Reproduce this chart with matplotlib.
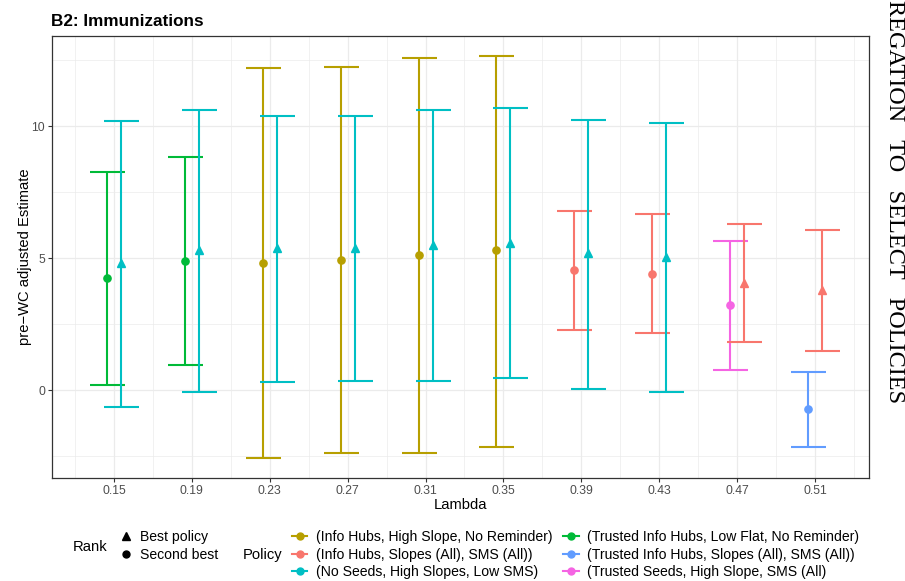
import numpy as np
import matplotlib.pyplot as plt
from matplotlib.lines import Line2D

plt.rcParams['font.family'] = ['Liberation Sans', 'DejaVu Sans']

lambdas = [0.15, 0.19, 0.23, 0.27, 0.31, 0.35, 0.39, 0.43, 0.47, 0.51]

policies = ['(Info Hubs, High Slope, No Reminder)',
            '(Info Hubs, Slopes (All), SMS (All))',
            '(No Seeds, High Slopes, Low SMS)',
            '(Trusted Info Hubs, Low Flat, No Reminder)',
            '(Trusted Info Hubs, Slopes (All), SMS (All))',
            '(Trusted Seeds, High Slope, SMS (All)']
policy_colors = ['#B79F00', '#F8766D', '#00BFC4', '#00BA38', '#619CFF', '#F564E3']

# index into policies for each lambda
best_policy = [2, 2, 2, 2, 2, 2, 2, 2, 1, 1]
best_est = [4.81, 5.30, 5.37, 5.39, 5.49, 5.57, 5.18, 5.03, 4.05, 3.79]
best_lo = [-0.65, -0.09, 0.29, 0.34, 0.34, 0.45, 0.04, -0.08, 1.81, 1.48]
best_hi = [10.19, 10.60, 10.38, 10.38, 10.60, 10.68, 10.23, 10.11, 6.28, 6.05]

second_policy = [3, 3, 0, 0, 0, 0, 1, 1, 5, 4]
second_est = [4.24, 4.90, 4.82, 4.92, 5.11, 5.30, 4.53, 4.41, 3.22, -0.73]
second_lo = [0.21, 0.95, -2.58, -2.40, -2.37, -2.16, 2.28, 2.16, 0.77, -2.16]
second_hi = [8.26, 8.83, 12.20, 12.23, 12.58, 12.65, 6.78, 6.65, 5.66, 0.69]

W, H = 905, 581
fig = plt.figure(figsize=(W / 100, H / 100), dpi=100)
ax = fig.add_axes([52 / W, 1 - 478 / H, (869 - 52) / W, (478 - 36) / H])

dodge = 0.0036
lw = 1.5


def draw(xs, est, lo, hi, pol, marker, ms):
    for x, e, l, h, p in zip(xs, est, lo, hi, pol):
        c = policy_colors[p]
        ax.errorbar(x, e, yerr=[[e - l], [h - e]], color=c, marker=marker,
                    ms=ms, lw=lw, capsize=12.6, capthick=lw, zorder=3)


draw(np.array(lambdas) - dodge, second_est, second_lo, second_hi, second_policy, 'o', 5.2)
draw(np.array(lambdas) + dodge, best_est, best_lo, best_hi, best_policy, '^', 6)

ax.set_xlim(0.1182, 0.5377)
ax.set_ylim(-3.33, 13.41)
ax.set_xticks(lambdas)
ax.set_xticklabels([f'{v:.2f}' for v in lambdas])
ax.set_xticks(list(np.array(lambdas) - 0.02) + [0.53], minor=True)
ax.set_yticks([0, 5, 10])
ax.set_yticks([-2.5, 2.5, 7.5, 12.5], minor=True)
ax.grid(True, which='major', color='#EBEBEB', lw=0.9, zorder=0)
ax.grid(True, which='minor', color='#EBEBEB', lw=0.5, zorder=0)
ax.set_axisbelow(True)
ax.tick_params(which='major', length=3, width=0.8, color='#333333',
               labelsize=8.8, labelcolor='#4D4D4D', pad=2)
ax.tick_params(which='minor', length=0)
for s in ax.spines.values():
    s.set_color('#333333')
    s.set_linewidth(0.9)

ax.set_xlabel('Lambda', fontsize=10.6, labelpad=1)
ax.set_ylabel('pre\u2212WC adjusted Estimate', fontsize=10.6)
ax.yaxis.set_label_coords(-0.0245, 0.5)

fig.text(51 / W, 1 - 21 / H, 'B2: Immunizations', fontsize=12.3,
         fontweight='bold', va='center', ha='left')

fig.text(894 / W, 1.0, 'REGATION   TO   SELECT   POLICIES', rotation=270,
         family='Liberation Serif', fontsize=17.5, va='top', ha='center')

# legends
fig.text(73 / W, 1 - 547 / H, 'Rank', fontsize=10.6, va='center', ha='left')
fig.text(243 / W, 1 - 555 / H, 'Policy', fontsize=10.6, va='center', ha='left')

rank_handles = [Line2D([], [], color='black', marker='^', ls='', ms=6),
                Line2D([], [], color='black', marker='o', ls='', ms=5)]
leg1 = fig.legend(rank_handles, ['Best policy', 'Second best'], loc='upper left',
                  bbox_to_anchor=(118 / W, 1 - 530 / H), frameon=False,
                  fontsize=10.1, borderpad=0, borderaxespad=0, handlelength=1.1,
                  handletextpad=0.5, labelspacing=0.25)

pol_handles = [Line2D([], [], color=c, marker='o', ms=5, lw=lw) for c in policy_colors]
leg2 = fig.legend(pol_handles, policies, loc='upper left', ncol=2,
                  bbox_to_anchor=(292 / W, 1 - 530 / H), frameon=False,
                  fontsize=10.1, borderpad=0, borderaxespad=0, handlelength=1.1,
                  handletextpad=0.58, labelspacing=0.25, columnspacing=0.8)

fig.savefig('out.png', dpi=100)
